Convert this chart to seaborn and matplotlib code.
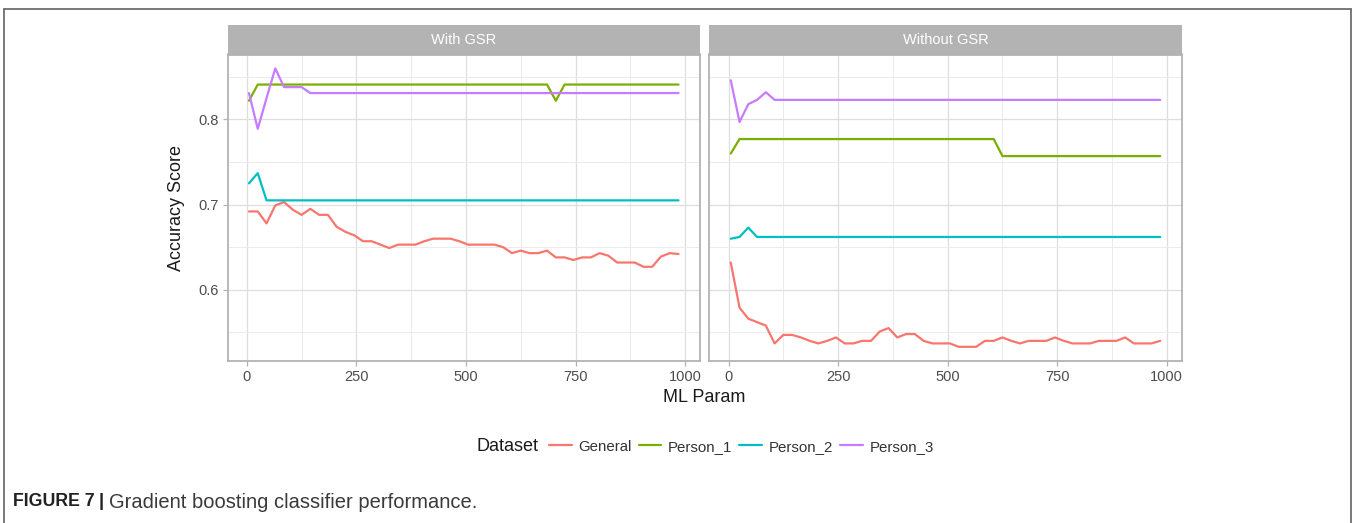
import matplotlib
matplotlib.use("Agg")
import matplotlib.pyplot as plt
import numpy as np
import pandas as pd
import seaborn as sns
from matplotlib.lines import Line2D
from matplotlib.ticker import MultipleLocator

# ---- data -------------------------------------------------------------
ml_param = [5, 25, 45, 65, 85, 105, 125, 145, 165, 185,
            205, 225, 245, 265, 285, 305, 325, 345, 365, 385,
            405, 425, 445, 465, 485, 505, 525, 545, 565, 585,
            605, 625, 645, 665, 685, 705, 725, 745, 765, 785,
            805, 825, 845, 865, 885, 905, 925, 945, 965, 985]

datasets = ["General", "Person_1", "Person_2", "Person_3"]
panels = ["With GSR", "Without GSR"]
x_ticks = [0, 250, 500, 750, 1000]
y_ticks = [0.6, 0.7, 0.8]

with_general = [0.692, 0.692, 0.678, 0.699, 0.703, 0.694, 0.688, 0.695, 0.688, 0.688,
                0.674, 0.668, 0.664, 0.657, 0.657, 0.653, 0.649, 0.653, 0.653, 0.653,
                0.657, 0.660, 0.660, 0.660, 0.657, 0.653, 0.653, 0.653, 0.653, 0.650,
                0.643, 0.646, 0.643, 0.643, 0.646, 0.638, 0.638, 0.635, 0.638, 0.638,
                0.643, 0.640, 0.632, 0.632, 0.632, 0.627, 0.627, 0.639, 0.643, 0.642]
with_person1 = [0.822, 0.841, 0.841, 0.841, 0.841, 0.841, 0.841, 0.841, 0.841, 0.841,
                0.841, 0.841, 0.841, 0.841, 0.841, 0.841, 0.841, 0.841, 0.841, 0.841,
                0.841, 0.841, 0.841, 0.841, 0.841, 0.841, 0.841, 0.841, 0.841, 0.841,
                0.841, 0.841, 0.841, 0.841, 0.841, 0.822, 0.841, 0.841, 0.841, 0.841,
                0.841, 0.841, 0.841, 0.841, 0.841, 0.841, 0.841, 0.841, 0.841, 0.841]
with_person2 = [0.725, 0.737, 0.705, 0.705, 0.705, 0.705, 0.705, 0.705, 0.705, 0.705,
                0.705, 0.705, 0.705, 0.705, 0.705, 0.705, 0.705, 0.705, 0.705, 0.705,
                0.705, 0.705, 0.705, 0.705, 0.705, 0.705, 0.705, 0.705, 0.705, 0.705,
                0.705, 0.705, 0.705, 0.705, 0.705, 0.705, 0.705, 0.705, 0.705, 0.705,
                0.705, 0.705, 0.705, 0.705, 0.705, 0.705, 0.705, 0.705, 0.705, 0.705]
with_person3 = [0.831, 0.789, 0.825, 0.860, 0.838, 0.838, 0.838, 0.831, 0.831, 0.831,
                0.831, 0.831, 0.831, 0.831, 0.831, 0.831, 0.831, 0.831, 0.831, 0.831,
                0.831, 0.831, 0.831, 0.831, 0.831, 0.831, 0.831, 0.831, 0.831, 0.831,
                0.831, 0.831, 0.831, 0.831, 0.831, 0.831, 0.831, 0.831, 0.831, 0.831,
                0.831, 0.831, 0.831, 0.831, 0.831, 0.831, 0.831, 0.831, 0.831, 0.831]

without_general = [0.632, 0.579, 0.566, 0.562, 0.558, 0.537, 0.547, 0.547, 0.544, 0.540,
                   0.537, 0.540, 0.544, 0.537, 0.537, 0.540, 0.540, 0.551, 0.555, 0.544,
                   0.548, 0.548, 0.540, 0.537, 0.537, 0.537, 0.533, 0.533, 0.533, 0.540,
                   0.540, 0.544, 0.540, 0.537, 0.540, 0.540, 0.540, 0.544, 0.540, 0.537,
                   0.537, 0.537, 0.540, 0.540, 0.540, 0.544, 0.537, 0.537, 0.537, 0.540]
without_person1 = [0.760, 0.777, 0.777, 0.777, 0.777, 0.777, 0.777, 0.777, 0.777, 0.777,
                   0.777, 0.777, 0.777, 0.777, 0.777, 0.777, 0.777, 0.777, 0.777, 0.777,
                   0.777, 0.777, 0.777, 0.777, 0.777, 0.777, 0.777, 0.777, 0.777, 0.777,
                   0.777, 0.757, 0.757, 0.757, 0.757, 0.757, 0.757, 0.757, 0.757, 0.757,
                   0.757, 0.757, 0.757, 0.757, 0.757, 0.757, 0.757, 0.757, 0.757, 0.757]
without_person2 = [0.660, 0.662, 0.673, 0.662, 0.662, 0.662, 0.662, 0.662, 0.662, 0.662,
                   0.662, 0.662, 0.662, 0.662, 0.662, 0.662, 0.662, 0.662, 0.662, 0.662,
                   0.662, 0.662, 0.662, 0.662, 0.662, 0.662, 0.662, 0.662, 0.662, 0.662,
                   0.662, 0.662, 0.662, 0.662, 0.662, 0.662, 0.662, 0.662, 0.662, 0.662,
                   0.662, 0.662, 0.662, 0.662, 0.662, 0.662, 0.662, 0.662, 0.662, 0.662]
without_person3 = [0.846, 0.797, 0.818, 0.823, 0.832, 0.823, 0.823, 0.823, 0.823, 0.823,
                   0.823, 0.823, 0.823, 0.823, 0.823, 0.823, 0.823, 0.823, 0.823, 0.823,
                   0.823, 0.823, 0.823, 0.823, 0.823, 0.823, 0.823, 0.823, 0.823, 0.823,
                   0.823, 0.823, 0.823, 0.823, 0.823, 0.823, 0.823, 0.823, 0.823, 0.823,
                   0.823, 0.823, 0.823, 0.823, 0.823, 0.823, 0.823, 0.823, 0.823, 0.823]

series = {
    "With GSR": [with_general, with_person1, with_person2, with_person3],
    "Without GSR": [without_general, without_person1, without_person2, without_person3],
}

rows = []
for panel, values in series.items():
    for name, ys in zip(datasets, values):
        for xv, yv in zip(ml_param, ys):
            rows.append({"GSR": panel, "Dataset": name, "ML Param": xv, "Accuracy Score": yv})
df = pd.DataFrame(rows)

palette = dict(zip(datasets, ["#F8766D", "#7CAE00", "#00BFC4", "#C77CFF"]))

# ---- styling ----------------------------------------------------------
sns.set_theme(style="white")
plt.rcParams["font.family"] = ["Liberation Sans", "DejaVu Sans"]

W, H = 1357, 523
fig = plt.figure(figsize=(W / 100, H / 100), dpi=100)


def fx(px):
    return px / W


def fy(py):
    return 1 - py / H


panel_top, panel_bottom, strip_top = 54.5, 360.7, 25.3
panel_x = {"With GSR": (227.5, 700.0), "Without GSR": (709.3, 1181.7)}

for i, panel in enumerate(panels):
    x0, x1 = panel_x[panel]
    ax = fig.add_axes([fx(x0), fy(panel_bottom), fx(x1 - x0), (panel_bottom - panel_top) / H])
    sub = df[df["GSR"] == panel]
    sns.lineplot(data=sub, x="ML Param", y="Accuracy Score", hue="Dataset",
                 hue_order=datasets, palette=palette, linewidth=1.6,
                 estimator=None, legend=False, ax=ax)
    ax.set_xlim(-44, 1034)
    ax.set_ylim(0.5167, 0.8763)
    ax.set_xticks(x_ticks)
    ax.set_xticklabels([str(t) for t in x_ticks])
    ax.xaxis.set_minor_locator(MultipleLocator(125))
    ax.set_yticks(y_ticks)
    ax.yaxis.set_minor_locator(MultipleLocator(0.05))
    ax.set_axisbelow(True)
    ax.grid(which="major", color="#DEDEDE", linewidth=0.9)
    ax.grid(which="minor", color="#EBEBEB", linewidth=0.7)
    for sp in ax.spines.values():
        sp.set_visible(True)
        sp.set_color("#B3B3B3")
        sp.set_linewidth(1.3)
    ax.tick_params(which="major", length=3.5, width=0.9, color="#B3B3B3",
                   labelsize=10.5, labelcolor="#4D4D4D", pad=3,
                   bottom=True, left=True)
    ax.tick_params(which="minor", length=0)
    if i == 0:
        ax.set_yticklabels([f"{t:.1f}" for t in y_ticks])
    else:
        ax.tick_params(axis="y", left=False, labelleft=False)
    ax.set_xlabel("")
    ax.set_ylabel("")

    # facet strip
    sax = fig.add_axes([fx(x0), fy(panel_top), fx(x1 - x0), (panel_top - strip_top) / H])
    sax.set_facecolor("#B3B3B3")
    sax.set_xticks([])
    sax.set_yticks([])
    for sp in sax.spines.values():
        sp.set_visible(False)
    sax.text(0.5, 0.5, panel, color="white", fontsize=10.5, ha="center", va="center",
             transform=sax.transAxes)

# axis titles
fig.text(fx(176.7), fy(207.6), "Accuracy Score", rotation=90, fontsize=13,
         ha="center", va="center", color="#1A1A1A")
fig.text(fx(704.6), fy(397), "ML Param", fontsize=13, ha="center", va="center",
         color="#1A1A1A")

# legend
fig.text(fx(476), fy(446.7), "Dataset", fontsize=13, ha="left", va="center",
         color="#1A1A1A")
handles = [Line2D([0], [0], color=palette[d], linewidth=1.6) for d in datasets]
fig.legend(handles, datasets, loc="center left",
           bbox_to_anchor=(fx(549), fy(446.7)), ncol=4, frameon=False,
           fontsize=10.8, handlelength=1.5, handletextpad=0.46,
           columnspacing=0.46, borderpad=0, borderaxespad=0,
           labelcolor="#333333")

# caption: bold label, separator bar, then the description
renderer = fig.canvas.get_renderer()
label = fig.text(fx(13), fy(502), "FIGURE 7", fontsize=12.8, fontweight="bold",
                 ha="left", va="center", color="#222222")
label_end = label.get_window_extent(renderer).x1
bar = fig.text((label_end + 4) / W, fy(502), "|", fontsize=13.5, fontweight="bold",
               ha="left", va="center", color="#222222")
bar_end = bar.get_window_extent(renderer).x1
fig.text((bar_end + 5) / W, fy(502), "Gradient boosting classifier performance.",
         fontsize=14.5, ha="left", va="center", color="#3A3A3A")

# outer frame (open at the bottom)
frame_kw = dict(color="#6E6E6E", linewidth=1.3, transform=fig.transFigure)
fig.add_artist(Line2D([fx(3.5), fx(3.5)], [0, fy(9)], **frame_kw))
fig.add_artist(Line2D([fx(3.5), fx(1351)], [fy(9), fy(9)], **frame_kw))
fig.add_artist(Line2D([fx(1351), fx(1351)], [0, fy(9)], **frame_kw))

fig.savefig("out.png", dpi=100)
